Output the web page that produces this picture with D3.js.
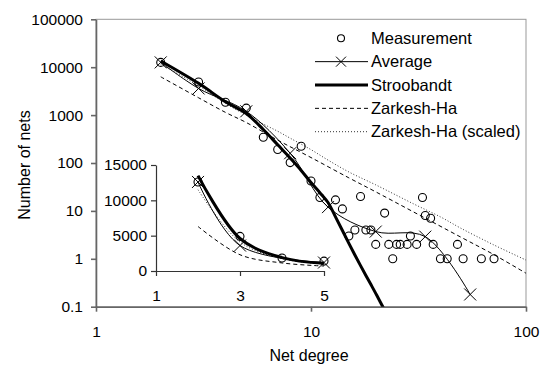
<!DOCTYPE html>
<html>
<head>
<meta charset="utf-8">
<script src="https://cdn.jsdelivr.net/npm/d3@7"></script>
<style>
  body { margin: 0; background: #fff; }
  svg { font-family: "Liberation Sans", Arial, sans-serif; }
</style>
</head>
<body>
<svg id="chart" width="550" height="372"></svg>
<script>
// measured net counts per degree
var measDeg = [2, 3, 4, 5, 6, 7, 8, 9, 10, 11, 13, 14, 15, 16, 17, 18, 19, 20, 22, 23, 24, 25, 26, 28, 29, 31, 33, 34, 36, 37, 40, 43, 48, 51, 62, 71]
var measCount = [12600, 4900, 1850, 1400, 346, 191, 102, 224, 42, 19, 17, 11, 3, 4, 20, 4, 4, 2, 9, 2, 1, 2, 2, 2, 3, 2, 19, 8, 7, 2, 1, 1, 2, 1, 1, 1]

// averaged over bins
var avgDeg = [2, 3, 5, 8, 12, 20, 34, 55]
var avgCount = [12600, 3600, 1200, 160, 12, 3.7, 2.9, 0.18]

// Stroobandt model
var stroDeg = [2, 3, 4, 5, 6, 7, 8, 9, 10, 11, 12, 13, 14, 15, 16, 17, 18, 19, 20, 21, 22]
var stroCount = [13500, 4600, 1900, 1080, 500, 240, 127, 70, 39, 24, 15, 7.5, 3.9, 2.1, 1.2, 0.72, 0.45, 0.29, 0.19, 0.125, 0.085]

// Zarkesh-Ha model
var zhDeg = [2, 3, 4, 5, 7, 10, 15, 20, 30, 50, 70, 100]
var zhCount = [6300, 2300, 1140, 700, 300, 130, 49, 25, 9.5, 2.8, 1.26, 0.5]

// Zarkesh-Ha scaled
var zhsDeg = [2, 3, 4, 5, 6, 7, 8, 10, 12, 15, 20, 30, 40, 50, 70, 100]
var zhsCount = [11500, 4100, 1750, 1000, 650, 460, 330, 190, 115, 65, 35, 14, 7.5, 4.3, 2.0, 0.94]

var yTicks = [0.1, 1, 10, 100, 1000, 10000, 100000]
var xTicks = [1, 10, 100]
var insetYTicks = [0, 5000, 10000, 15000]
var insetXTicks = [1, 3, 5]

var svg = d3.select("#chart")
var ink = "#000"
var axisGray = "#666"

function zip(xs, ys) { return xs.map(function (d, i) { return { d: d, v: ys[i] } }) }

var meas = zip(measDeg, measCount)
var avg = zip(avgDeg, avgCount)
var stro = zip(stroDeg, stroCount)
var zh = zip(zhDeg, zhCount)
var zhs = zip(zhsDeg, zhsCount)

// ---- main log-log plot
var x = d3.scaleLog().domain([1, 100]).range([96, 526])
var y = d3.scaleLog().domain([0.1, 100000]).range([306.7, 19.3])

svg.append("clipPath").attr("id", "plotclip")
    .append("rect").attr("x", 96).attr("y", 19.3).attr("width", 430).attr("height", 287.4)

// plot frame
svg.append("rect")
    .attr("x", 96).attr("y", 19.3).attr("width", 430).attr("height", 287.4)
    .attr("fill", "none").attr("stroke", "#999").attr("stroke-width", 1)

var yAxis = svg.append("g")
    .attr("transform", "translate(96,0)")
    .call(d3.axisLeft(y).tickValues(yTicks).tickFormat(function (d) { return String(d) }).tickSize(5).tickSizeOuter(0).tickPadding(8))
var xAxis = svg.append("g")
    .attr("transform", "translate(0,306.7)")
    .call(d3.axisBottom(x).tickValues(xTicks).tickFormat(function (d) { return String(d) }).tickSize(5).tickSizeOuter(0).tickPadding(14))

;[yAxis, xAxis].forEach(function (g) {
    g.select(".domain").attr("stroke", axisGray).attr("stroke-width", 1.6)
    g.selectAll(".tick line").attr("stroke", axisGray).attr("stroke-width", 1.6)
    g.selectAll("text").attr("font-size", "15.5px").attr("fill", ink).attr("font-family", null)
})

// axis titles
svg.append("text")
    .attr("transform", "translate(29.5,165) rotate(-90)")
    .attr("text-anchor", "middle")
    .style("font-size", "16px")
    .text("Number of nets")
svg.append("text")
    .attr("x", 309).attr("y", 361)
    .attr("text-anchor", "middle")
    .style("font-size", "16px")
    .text("Net degree")

var plot = svg.append("g").attr("clip-path", "url(#plotclip)")

function drawSeries(g, data, sx, sy) {
    var line = d3.line().x(function (p) { return sx(p.d) }).y(function (p) { return sy(p.v) }).curve(d3.curveCatmullRom)
    g.append("path").datum(data.zh).attr("d", line)
        .attr("fill", "none").attr("stroke", ink).attr("stroke-width", 1).attr("stroke-dasharray", "4,3")
    g.append("path").datum(data.zhs).attr("d", line)
        .attr("fill", "none").attr("stroke", "#333").attr("stroke-width", 1).attr("stroke-dasharray", "1,2")
    g.append("path").datum(data.stro).attr("d", line)
        .attr("fill", "none").attr("stroke", ink).attr("stroke-width", 3)
    g.append("path").datum(data.avg).attr("d", line)
        .attr("fill", "none").attr("stroke", ink).attr("stroke-width", 1)

    g.selectAll(".xmark").data(data.avg).enter().append("path")
        .attr("transform", function (p) { return "translate(" + sx(p.d) + "," + sy(p.v) + ")" })
        .attr("d", "M-6,-6L6,6M-6,6L6,-6")
        .attr("stroke", ink).attr("stroke-width", 1)

    g.selectAll(".meas").data(data.meas).enter().append("circle")
        .attr("cx", function (p) { return sx(p.d) })
        .attr("cy", function (p) { return sy(p.v) })
        .attr("r", 4)
        .attr("fill", "none").attr("stroke", ink).attr("stroke-width", 1.1)
}

drawSeries(plot, { meas: meas, avg: avg, stro: stro, zh: zh, zhs: zhs }, x, y)

// ---- inset with linear axes for degrees up to 5
var xi = d3.scaleLinear().domain([1, 5]).range([156, 324])
var yi = d3.scaleLinear().domain([0, 15000]).range([271, 165])
function upTo5(arr) { return arr.filter(function (p) { return p.d <= 5 }) }

var insetY = svg.append("g")
    .attr("transform", "translate(156,0)")
    .call(d3.axisLeft(yi).tickValues(insetYTicks).tickSize(5).tickSizeOuter(0).tickPadding(4).tickFormat(d3.format("d")))
var insetX = svg.append("g")
    .attr("transform", "translate(0,271)")
    .call(d3.axisBottom(xi).tickValues(insetXTicks).tickSize(5).tickSizeOuter(0).tickPadding(14).tickFormat(d3.format("d")))
;[insetY, insetX].forEach(function (g) {
    g.select(".domain").attr("stroke", "#333").attr("stroke-width", 1.2)
    g.selectAll(".tick line").attr("stroke", "#333").attr("stroke-width", 1.2)
    g.selectAll("text").attr("font-size", "15.5px").attr("fill", ink).attr("font-family", null)
})

drawSeries(svg.append("g"), {
    meas: upTo5(meas), avg: upTo5(avg), stro: upTo5(stro), zh: upTo5(zh), zhs: upTo5(zhs)
}, xi, yi)

// ---- legend
var legendItems = ["Measurement", "Average", "Stroobandt", "Zarkesh-Ha", "Zarkesh-Ha (scaled)"]
var legend = svg.append("g").attr("transform", "translate(315,38.3)")
legendItems.forEach(function (name, i) {
    var row = legend.append("g").attr("transform", "translate(0," + (i * 23.35) + ")")
    if (i == 0) {
        row.append("circle").attr("cx", 26).attr("cy", 0).attr("r", 3.5)
            .attr("fill", "none").attr("stroke", ink).attr("stroke-width", 1.1)
    } else {
        var ln = row.append("line").attr("x1", 0).attr("x2", 53).attr("y1", 0).attr("y2", 0).attr("stroke", ink)
        if (i == 1) {
            ln.attr("stroke-width", 1)
            row.append("path").attr("d", "M21,-5L31,5M21,5L31,-5").attr("stroke", ink).attr("stroke-width", 1)
        }
        if (i == 2) ln.attr("stroke-width", 3)
        if (i == 3) ln.attr("stroke-width", 1).attr("stroke-dasharray", "4,3")
        if (i == 4) ln.attr("stroke-width", 1).attr("stroke", "#333").attr("stroke-dasharray", "1,2")
    }
    row.append("text")
        .attr("x", 56).attr("y", 0).attr("dy", "0.35em")
        .style("font-size", "16.5px")
        .text(name)
})
</script>
</body>
</html>
